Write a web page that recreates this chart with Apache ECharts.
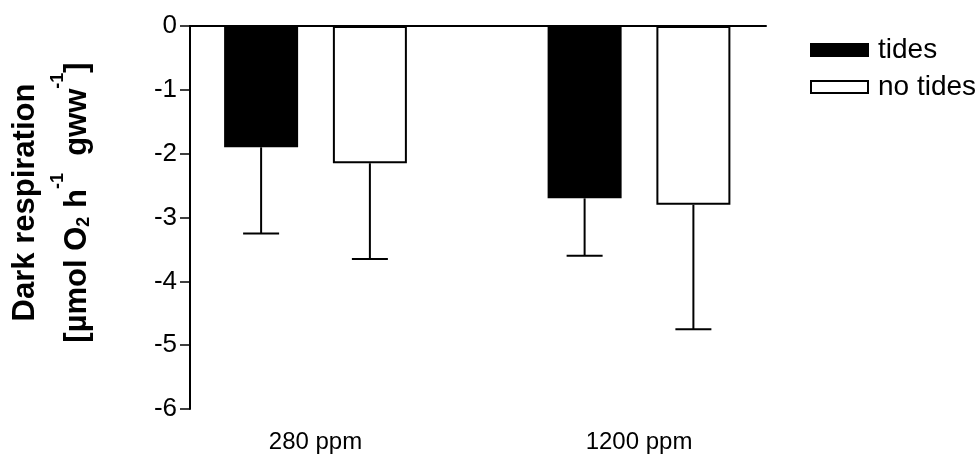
<!DOCTYPE html>
<html>
<head>
<meta charset="utf-8">
<script src="https://cdn.jsdelivr.net/npm/echarts@6/dist/echarts.min.js"></script>
<style>
  html, body { margin: 0; padding: 0; background: #fff; }
  #chart { width: 980px; height: 458px; }
</style>
</head>
<body>
<div id="chart"></div>
<script>
// Dark respiration under two CO2 levels, with and without tides (mean, lower SD)
const categories = ['280 ppm', '1200 ppm'];
const seriesNames = ['tides', 'no tides'];
const tidesMean = [-1.9, -2.7];
const tidesSd = [1.35, 0.9];
const noTidesMean = [-2.15, -2.8];
const noTidesSd = [1.5, 1.95];
const yMin = -6;
const yMax = 0;
const yStep = 1;

// bar geometry (pixels)
const BAR_WIDTH = 74;
const BAR_GAP = 0.47;            // fraction of bar width
const BAR_OFFSET = (BAR_WIDTH + BAR_WIDTH * BAR_GAP) / 2;
const CAP = 36;
const FONT = 'Arial, "Liberation Sans", Helvetica, sans-serif';

const chart = echarts.init(document.getElementById('chart'), null, { renderer: 'canvas' });

function errorBar(side) {
  return function (params, api) {
    const c = api.value(0);
    const v = api.value(1);
    const e = api.value(2);
    const p0 = api.coord([c, v]);
    const p1 = api.coord([c, v - e]);
    const x = p0[0] + side * BAR_OFFSET;
    const st = { stroke: '#000', lineWidth: 2 };
    return {
      type: 'group',
      children: [
        { type: 'line', shape: { x1: x, y1: p0[1], x2: x, y2: p1[1] }, style: st },
        { type: 'line', shape: { x1: x - CAP / 2, y1: p1[1], x2: x + CAP / 2, y2: p1[1] }, style: st }
      ]
    };
  };
}

const yName = '{t|Dark respiration}\n' +
  '{m|[µmol O}{sub|2}{m| h}{sup|-1}{m|  gww}{sup|-1}{m|]}';

const option = {
  animation: false,
  backgroundColor: '#fff',
  textStyle: { fontFamily: FONT, color: '#000' },
  legend: {
    data: seriesNames,
    orient: 'vertical',
    left: 805,
    top: 31,
    icon: 'rect',
    itemWidth: 57,
    itemHeight: 12,
    itemGap: 9,
    textStyle: { fontFamily: FONT, fontSize: 28, color: '#000', padding: [0, 0, 0, 5] }
  },
  grid: [
    { left: 190, top: 26, width: 576, height: 383, containLabel: false },
    { left: 153.75, top: 26, width: 647, height: 383, containLabel: false }
  ],
  xAxis: [
    {
      gridIndex: 0,
      type: 'category',
      data: categories,
      position: 'top',
      axisLine: { show: true, onZero: false, lineStyle: { color: '#000', width: 2 } },
      axisTick: { show: false },
      axisLabel: { show: false },
      splitLine: { show: false }
    },
    {
      gridIndex: 1,
      type: 'category',
      data: categories,
      position: 'bottom',
      axisLine: { show: false, onZero: false },
      axisTick: { show: false },
      axisLabel: { show: true, margin: 21, fontSize: 24, color: '#000', fontFamily: FONT },
      splitLine: { show: false }
    }
  ],
  yAxis: [
    {
      gridIndex: 0,
      type: 'value',
      min: yMin,
      max: yMax,
      interval: yStep,
      axisLine: { show: true, onZero: false, lineStyle: { color: '#000', width: 2 } },
      axisTick: { show: true, length: 10, lineStyle: { color: '#000', width: 1.5 } },
      axisLabel: { margin: 13, fontSize: 26, color: '#000', fontFamily: FONT },
      splitLine: { show: false },
      name: yName,
      nameLocation: 'middle',
      nameRotate: 90,
      nameGap: 97,
      nameTextStyle: {
        padding: [0, 0, 0, 30],
        rich: {
          t: { fontFamily: FONT, fontSize: 31, fontWeight: 'bold', color: '#000', lineHeight: 47 },
          m: { fontFamily: FONT, fontSize: 31, fontWeight: 'bold', color: '#000', verticalAlign: 'bottom' },
          sub: { fontFamily: FONT, fontSize: 18, fontWeight: 'bold', color: '#000', verticalAlign: 'bottom' },
          sup: { fontFamily: FONT, fontSize: 18, fontWeight: 'bold', color: '#000', verticalAlign: 'top', padding: [0, 0, 26, 0] }
        }
      }
    },
    {
      gridIndex: 1,
      type: 'value',
      min: yMin,
      max: yMax,
      interval: yStep,
      show: false
    }
  ],
  series: [
    {
      name: seriesNames[0],
      type: 'bar',
      xAxisIndex: 1,
      yAxisIndex: 1,
      data: tidesMean,
      barWidth: BAR_WIDTH,
      barGap: (BAR_GAP * 100) + '%',
      itemStyle: { color: '#000', borderColor: '#000', borderWidth: 2 }
    },
    {
      name: seriesNames[1],
      type: 'bar',
      xAxisIndex: 1,
      yAxisIndex: 1,
      data: noTidesMean,
      barWidth: BAR_WIDTH,
      barGap: (BAR_GAP * 100) + '%',
      itemStyle: { color: '#fff', borderColor: '#000', borderWidth: 2 }
    },
    {
      name: 'tides SD',
      type: 'custom',
      xAxisIndex: 1,
      yAxisIndex: 1,
      z: 3,
      renderItem: errorBar(-1),
      data: tidesMean.map((v, i) => [i, v, tidesSd[i]])
    },
    {
      name: 'no tides SD',
      type: 'custom',
      xAxisIndex: 1,
      yAxisIndex: 1,
      z: 3,
      renderItem: errorBar(1),
      data: noTidesMean.map((v, i) => [i, v, noTidesSd[i]])
    }
  ]
};

chart.setOption(option);
</script>
</body>
</html>
